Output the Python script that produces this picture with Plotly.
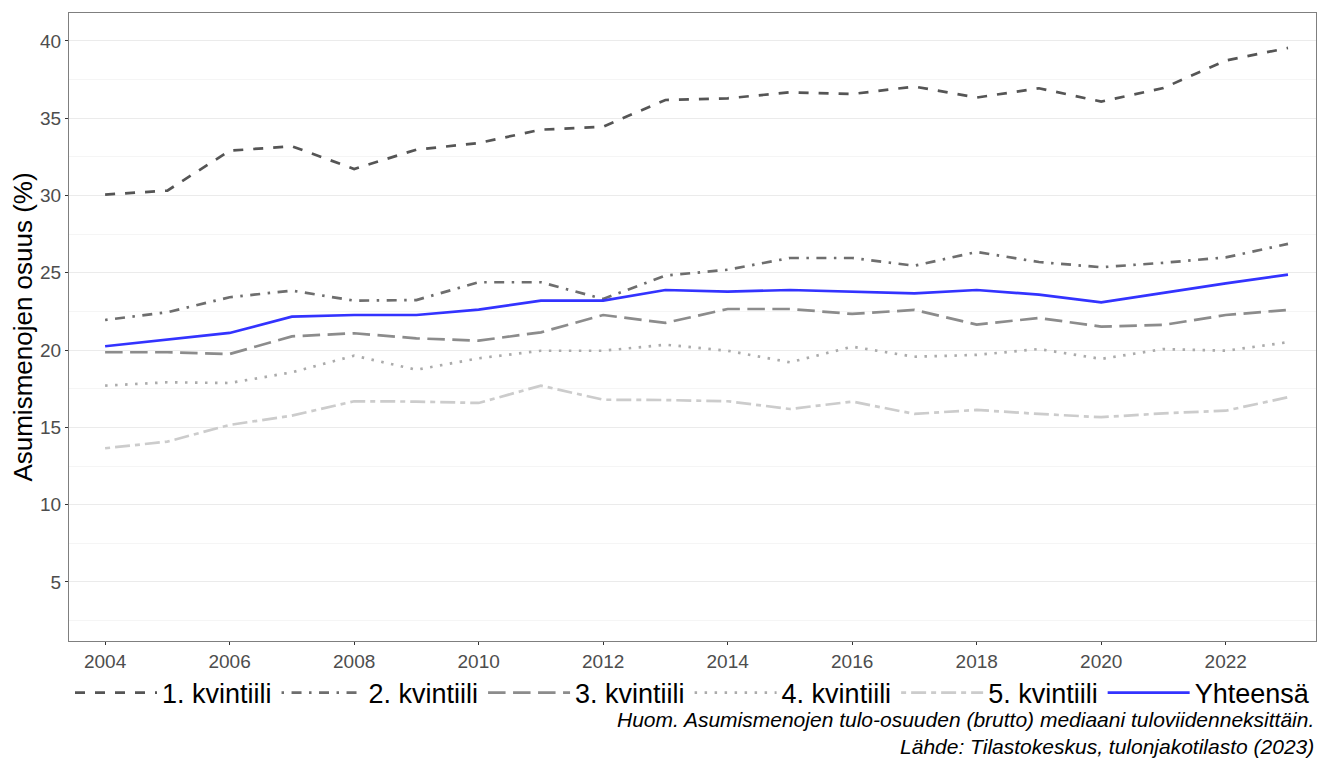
import plotly.graph_objects as go

years = list(range(2004, 2024))

kv1 = [30.06, 30.32, 32.90, 33.19, 31.72, 32.97, 33.40, 34.26, 34.46, 36.18,
       36.29, 36.68, 36.57, 37.05, 36.34, 36.94, 36.08, 36.96, 38.73, 39.55]
kv2 = [21.95, 22.45, 23.42, 23.85, 23.20, 23.24, 24.39, 24.39, 23.31, 24.82,
       25.20, 25.96, 25.96, 25.46, 26.35, 25.70, 25.36, 25.65, 26.00, 26.87]
kv3 = [19.86, 19.86, 19.75, 20.89, 21.09, 20.76, 20.61, 21.15, 22.27, 21.76,
       22.66, 22.66, 22.34, 22.60, 21.65, 22.08, 21.52, 21.63, 22.27, 22.60]
kv4 = [17.70, 17.92, 17.87, 18.56, 19.64, 18.73, 19.47, 19.96, 19.96, 20.35,
       19.96, 19.21, 20.22, 19.57, 19.69, 20.07, 19.43, 20.07, 19.96, 20.51]
kv5 = [13.65, 14.08, 15.16, 15.76, 16.69, 16.67, 16.58, 17.70, 16.79, 16.77,
       16.69, 16.19, 16.67, 15.87, 16.13, 15.87, 15.66, 15.91, 16.08, 16.95]
total = [20.25, 20.68, 21.11, 22.16, 22.27, 22.27, 22.62, 23.20, 23.20, 23.89,
         23.78, 23.89, 23.78, 23.67, 23.89, 23.59, 23.09, 23.70, 24.32, 24.88]

series_names = ["1. kvintiili", "2. kvintiili", "3. kvintiili", "4. kvintiili", "5. kvintiili", "Yhteensä"]
series_values = [kv1, kv2, kv3, kv4, kv5, total]
colors = ["#555555", "#6e6e6e", "#8c8c8c", "#ababab", "#cccccc", "#3333ff"]
dashes = ["10px,10px", "2.5px,7.5px,10px,7.5px", "17.5px,7.5px", "2.5px,7.5px",
          "5px,5px,15px,5px", "solid"]

x_ticks = list(range(2004, 2024, 2))
y_ticks = [5, 10, 15, 20, 25, 30, 35, 40]
y_minor = [2.5, 7.5, 12.5, 17.5, 22.5, 27.5, 32.5, 37.5]

caption_lines = ["Huom. Asumismenojen tulo-osuuden (brutto) mediaani tuloviidenneksittäin.",
                 "Lähde: Tilastokeskus, tulonjakotilasto (2023)"]

fig = go.Figure()
for name, vals, col, dsh in zip(series_names, series_values, colors, dashes):
    fig.add_trace(go.Scatter(x=years, y=vals, name=name, mode="lines",
                             line=dict(color=col, width=2.7, dash=dsh)))

# page body has an 8px margin: figure is drawn at (8, 8) in the window
fig.update_layout(
    width=1318, height=750,
    margin=dict(l=61, r=10, t=5, b=117),
    plot_bgcolor="white", paper_bgcolor="white",
    font=dict(family="Liberation Sans, Arial, sans-serif", color="#000000"),
    showlegend=True,
    legend=dict(orientation="h", x=0.5, xanchor="center", y=-0.083, yanchor="middle",
                font=dict(size=27, color="#000000"), itemwidth=82,
                traceorder="normal", bgcolor="rgba(0,0,0,0)"),
    annotations=[dict(text="<br>".join("<i>" + s + "</i>" for s in caption_lines),
                      xref="paper", yref="paper", x=1.0, xanchor="right",
                      y=-0.104, yanchor="top", showarrow=False, align="right",
                      font=dict(size=21, color="#000000",
                                family="Liberation Sans, Arial, sans-serif"))],
)

fig.update_xaxes(range=[2003.42, 2023.45], tickmode="array", tickvals=x_ticks,
                 ticktext=[str(v) for v in x_ticks], showgrid=False, zeroline=False,
                 ticks="outside", ticklen=3, tickcolor="#333333", automargin=False,
                 tickfont=dict(size=19, color="#4d4d4d"),
                 showline=True, linecolor="#7f7f7f", linewidth=1.3, mirror=True)
fig.update_yaxes(range=[1.18, 41.81], tickmode="array", tickvals=y_ticks,
                 ticktext=[str(v) for v in y_ticks], showgrid=True, gridcolor="#ebebeb",
                 gridwidth=1, zeroline=False, automargin=False,
                 ticks="outside", ticklen=3, tickcolor="#333333",
                 tickfont=dict(size=19, color="#4d4d4d"),
                 minor=dict(tickmode="array", tickvals=y_minor,
                            showgrid=True, gridcolor="#f5f5f5", gridwidth=1, ticks=""),
                 showline=True, linecolor="#7f7f7f", linewidth=1.3, mirror=True,
                 title=dict(text="Asumismenojen osuus (%)", font=dict(size=26, color="#000000"),
                            standoff=3))

fig.write_html("out.html")
